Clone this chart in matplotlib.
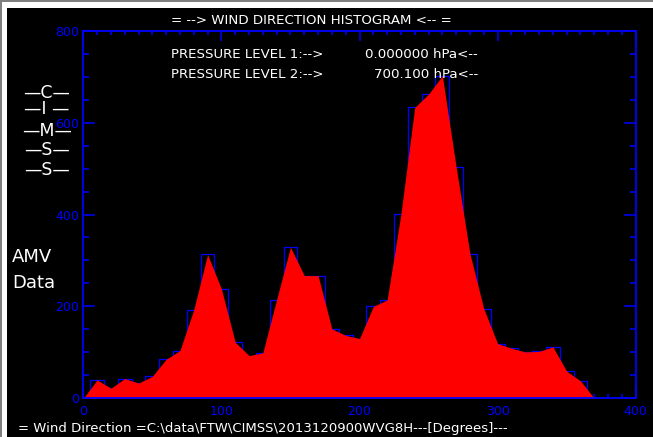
import numpy as np
import matplotlib.pyplot as plt
from matplotlib.patches import Rectangle
from matplotlib.ticker import MultipleLocator

# wind direction bins (degrees) and counts
directions = list(range(0, 410, 10))
counts = [0, 40, 22, 43, 33, 48, 85, 104, 193, 313,
          238, 122, 93, 99, 215, 329, 267, 267, 151, 137,
          130, 200, 214, 401, 633, 662, 702, 503, 314, 195,
          119, 109, 101, 102, 112, 59, 38, 0, 0, 0, 0]

title = "= --> WIND DIRECTION HISTOGRAM <-- ="
xlabel = "= Wind Direction =C:\\data\\FTW\\CIMSS\\2013120900WVG8H---[Degrees]---"
levels = ["PRESSURE LEVEL 1:-->", "PRESSURE LEVEL 2:-->"]
level_values = ["0.000000 hPa<--", "700.100 hPa<--"]
cimss = ["—C—", "—I —", "—M—", "—S—", "—S—"]

W, H = 653, 437
blue = "#0000ff"


def fx(px):
    return px / W


def fy(py):
    return 1 - py / H


fig = plt.figure(figsize=(W / 100, H / 100), dpi=100, facecolor="white")

# window frame
fig.patches.append(Rectangle((fx(7), 0), 1 - fx(7), fy(8), transform=fig.transFigure,
                             facecolor="black", edgecolor="none", zorder=-2))
fig.patches.append(Rectangle((0, fy(2)), 1, 2 / H, transform=fig.transFigure,
                             facecolor="#808080", edgecolor="none", zorder=-2))
fig.patches.append(Rectangle((0, 0), fx(2), 1, transform=fig.transFigure,
                             facecolor="#808080", edgecolor="none", zorder=-2))

ax = fig.add_axes([fx(83.3), fy(398.3), fx(635.7) - fx(83.3), fy(30.7) - fy(398.3)])
ax.set_facecolor("black")
ax.set_zorder(1)

ax.step(directions, counts, where="mid", color=blue, lw=0.9, zorder=2)
ax.fill_between(directions, counts, color="red", lw=0, zorder=3)

ax.set_xlim(0, 400)
ax.set_ylim(0, 800)
ax.xaxis.set_major_locator(MultipleLocator(100))
ax.xaxis.set_minor_locator(MultipleLocator(10))
ax.yaxis.set_major_locator(MultipleLocator(200))
ax.yaxis.set_minor_locator(MultipleLocator(50))

for s in ax.spines.values():
    s.set_color(blue)
    s.set_linewidth(1.3)
    s.set_zorder(4)

ax.tick_params(axis="both", which="both", direction="in", color=blue,
               labelcolor=blue, labelsize=9, top=True, right=True, width=1.1)
ax.tick_params(axis="x", which="major", length=7, pad=5)
ax.tick_params(axis="x", which="minor", length=3)
ax.tick_params(axis="y", which="major", length=8.5, pad=3)
ax.tick_params(axis="y", which="minor", length=4.3)

# texts
fig.text(fx(311), fy(20), title, color="white", fontsize=9.6, ha="center", va="center",
         zorder=5)
for i in range(2):
    yy = [54, 74.3][i]
    fig.text(fx(170.7), fy(yy), levels[i], color="white", fontsize=9.6, va="center",
             zorder=5)
    fig.text(fx(478), fy(yy), level_values[i], color="white", fontsize=9.6,
             va="center", ha="right", zorder=5)

for s, yy in zip(cimss, [93, 109.5, 131, 150, 170]):
    fig.text(fx(47), fy(yy), s, color="white", fontsize=12.5, ha="center", va="center",
             zorder=5)

fig.text(fx(12), fy(257), "AMV", color="white", fontsize=13, va="center", zorder=5)
fig.text(fx(12), fy(283), "Data", color="white", fontsize=13, va="center", zorder=5)

fig.text(fx(18), fy(428.5), xlabel, color="white", fontsize=9.5, va="center", zorder=5)

plt.savefig("out.png", dpi=100, facecolor=fig.get_facecolor())
